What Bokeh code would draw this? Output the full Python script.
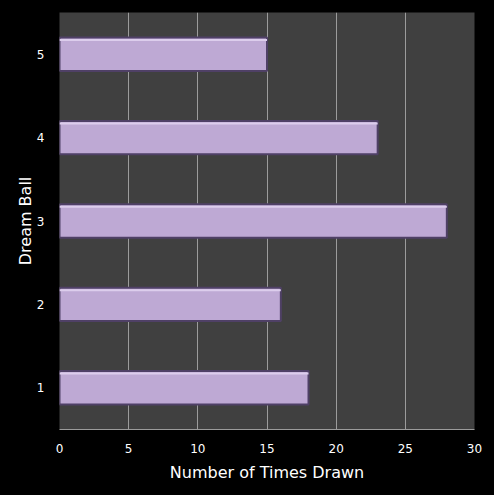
from bokeh.plotting import figure
from bokeh.models import Range1d, FixedTicker, ColumnDataSource
from bokeh.embed import file_html
from bokeh.resources import INLINE

balls = [1, 2, 3, 4, 5]
times_drawn = [18, 16, 28, 23, 15]
x_ticks = [0, 5, 10, 15, 20, 25, 30]

bar_height = 0.4
src = ColumnDataSource(dict(ball=balls, times=times_drawn,
                            top_edge=[b + bar_height / 2 - 0.03 for b in balls],
                            zero=[0] * len(balls)))

p = figure(width=494, height=495, output_backend="svg", toolbar_location=None,
           x_range=Range1d(0, 30), y_range=Range1d(0.5, 5.5),
           border_fill_color="#000000",
           min_border_left=59, min_border_right=20, min_border_top=12, min_border_bottom=66)
p.background_fill_color = "#404040"
p.outline_line_color = None

p.xgrid.grid_line_color = "#9c9c9c"
p.xgrid.grid_line_width = 1
p.ygrid.grid_line_color = None

p.hbar(y="ball", right="times", left=0, height=bar_height, source=src,
       fill_color="#bea9d4", line_color="#4f4066", line_width=2)
p.segment(x0="zero", y0="top_edge", x1="times", y1="top_edge", source=src,
          line_color="#dccdec", line_width=2)

p.xaxis.ticker = FixedTicker(ticks=x_ticks)
p.yaxis.ticker = FixedTicker(ticks=balls)
for ax in (p.xaxis, p.yaxis):
    ax.major_tick_line_color = None
    ax.minor_tick_line_color = None
    ax.major_tick_out = 0
    ax.major_tick_in = 0
    ax.major_label_text_color = "#ffffff"
    ax.major_label_text_font = "DejaVu Sans"
    ax.major_label_text_font_size = "12px"
    ax.axis_label_text_color = "#ffffff"
    ax.axis_label_text_font = "DejaVu Sans"
    ax.axis_label_text_font_size = "16px"
    ax.axis_label_text_font_style = "normal"
p.xaxis.axis_label = "Number of Times Drawn"
p.yaxis.axis_label = "Dream Ball"
p.xaxis.axis_line_color = "#9c9c9c"
p.yaxis.axis_line_color = None
p.xaxis.major_label_standoff = 14
p.yaxis.major_label_standoff = 15
p.xaxis.axis_label_standoff = 7
p.yaxis.axis_label_standoff = -1

html = file_html(p, INLINE).replace("<body>", '<body style="background-color:#000000;">')
open("out.html", "w").write(html)
